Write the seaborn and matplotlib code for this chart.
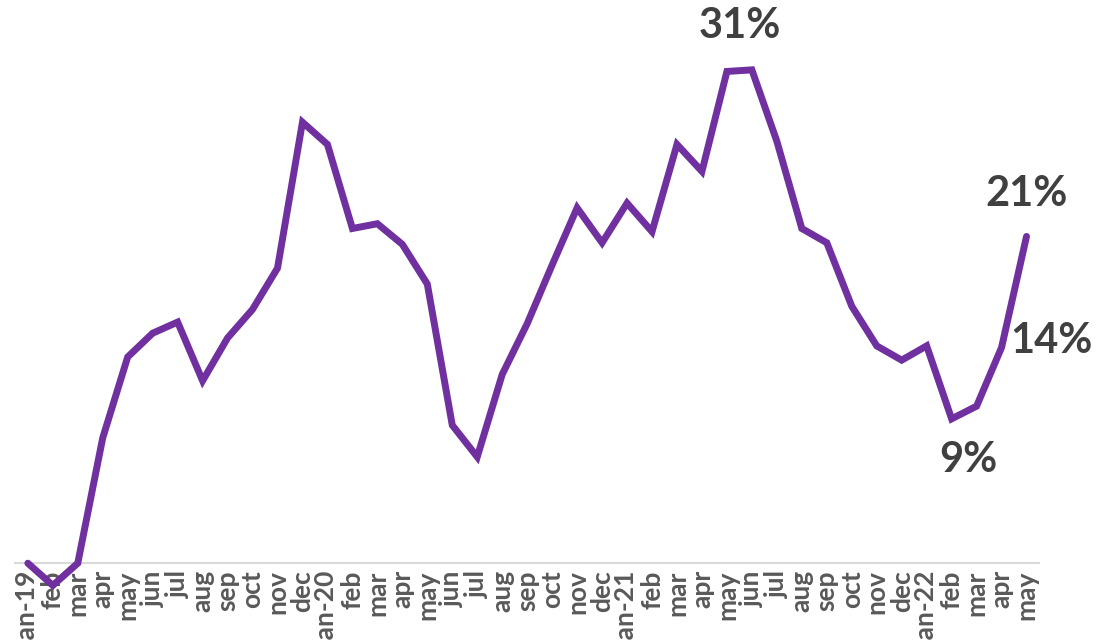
import pandas as pd
import matplotlib
matplotlib.use("Agg")
import matplotlib.pyplot as plt
import seaborn as sns

# --- data ---
months = ["jan-19", "feb", "mar", "apr", "may", "jun", "jul", "aug", "sep", "oct", "nov", "dec",
          "jan-20", "feb", "mar", "apr", "may", "jun", "jul", "aug", "sep", "oct", "nov", "dec",
          "jan-21", "feb", "mar", "apr", "may", "jun", "jul", "aug", "sep", "oct", "nov", "dec",
          "jan-22", "feb", "mar", "apr", "may"]
values = [0.0, -1.4, 0.0, 7.9, 13.0, 14.5, 15.2, 11.5, 14.2, 16.0, 18.6, 27.8,
          26.4, 21.1, 21.4, 20.1, 17.6, 8.7, 6.7, 11.9, 15.1, 18.8, 22.4, 20.2,
          22.7, 20.9, 26.4, 24.7, 31.0, 31.1, 26.6, 21.1, 20.2, 16.2, 13.7, 12.8,
          13.7, 9.1, 9.9, 13.6, 20.6]
# labelled points: index into months, text
label_idx = [29, 40, 39, 37]
label_txt = ["31%", "21%", "14%", "9%"]

df = pd.DataFrame({"pos": range(len(months)), "val": values})

sns.set_theme(style="white")
plt.rcParams["font.family"] = ["Lato", "DejaVu Sans"]

fig = plt.figure(figsize=(10.96, 6.4), dpi=100)
ax = fig.add_axes([0.014, 0.12, 0.934, 0.8675])

sns.lineplot(data=df, x="pos", y="val", ax=ax, color="#7030A0", linewidth=5,
             solid_joinstyle="miter", clip_on=False)

ax.set_xlim(-0.5, len(months) - 0.5)
ax.set_ylim(0, 35)
ax.set_xlabel("")
ax.set_ylabel("")
ax.set_yticks([])
ax.set_xticks(range(len(months)))
ax.set_xticklabels(months, rotation=90, fontsize=19, fontweight="bold", color="#595959")
ax.tick_params(axis="x", length=0, pad=5)

for side in ["top", "left", "right"]:
    ax.spines[side].set_visible(False)
ax.spines["bottom"].set_color("#d9d9d9")
ax.spines["bottom"].set_linewidth(1.5)
ax.spines["bottom"].set_zorder(0)

txt_kw = dict(fontsize=30, fontweight="bold", color="#404040")
# 31% above the peak
ax.annotate(label_txt[0], (label_idx[0] - 0.5, values[label_idx[0]]), xytext=(0, 18),
            textcoords="offset points", ha="center", va="bottom", **txt_kw)
# 21% above the last point
ax.annotate(label_txt[1], (label_idx[1], values[label_idx[1]]), xytext=(0, 17),
            textcoords="offset points", ha="center", va="bottom", **txt_kw)
# 14% right of apr-22
ax.annotate(label_txt[2], (label_idx[2], values[label_idx[2]]), xytext=(6, 5),
            textcoords="offset points", ha="left", va="center", **txt_kw)
# 9% below feb-22
ax.annotate(label_txt[3], (label_idx[3], values[label_idx[3]]), xytext=(12, -16),
            textcoords="offset points", ha="center", va="top", **txt_kw)

fig.savefig("out.png", dpi=100)
